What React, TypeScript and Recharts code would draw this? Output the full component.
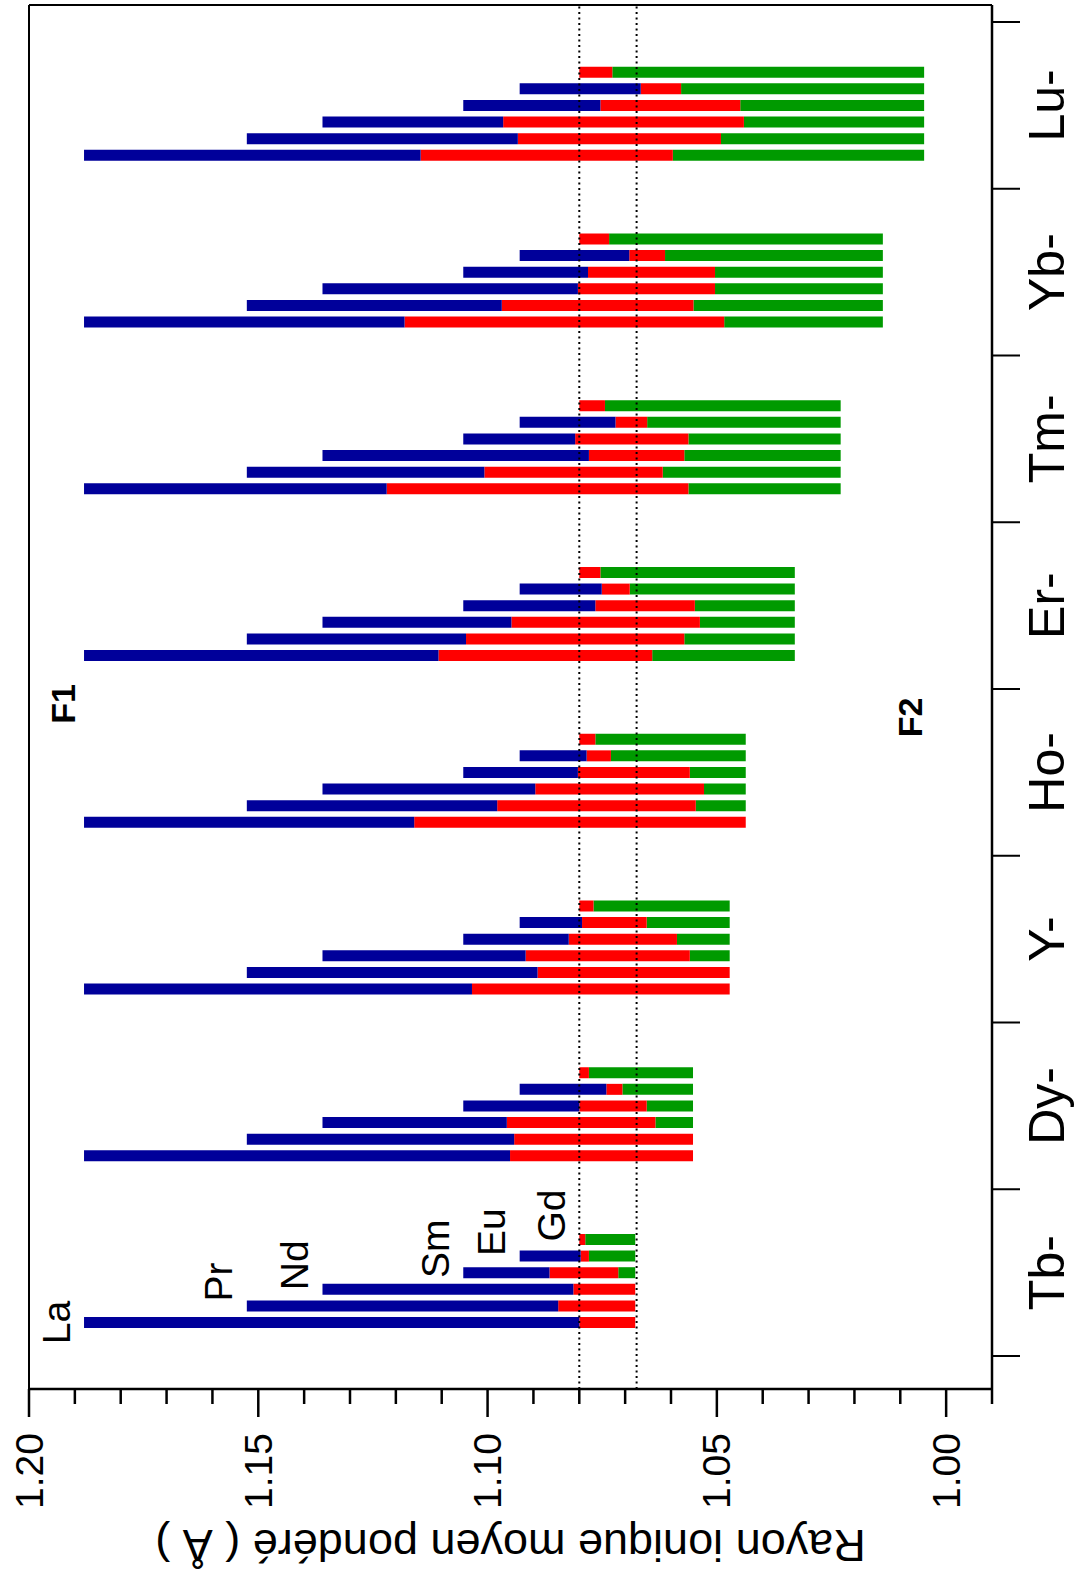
import React from "react";
import { Bar, BarChart, ReferenceDot, ReferenceLine, XAxis, YAxis } from "recharts";

// groups along the category axis (bottom to top in the picture)
const categories = ["Tb-", "Dy-", "Y-", "Ho-", "Er-", "Tm-", "Yb-", "Lu-"];
// bars inside each group
const elements = ["La", "Pr", "Nd", "Sm", "Eu", "Gd"];

// start of each bar (blue end), same in every group
const topValues: Record<string, number> = {
  La: 1.188,
  Pr: 1.1525,
  Nd: 1.136,
  Sm: 1.1053,
  Eu: 1.093,
  Gd: 1.08,
};

// end of the bars (green end), one per group
const bottomValues = [1.0678, 1.0552, 1.0472, 1.0437, 1.033, 1.023, 1.0138, 1.0048];

// blue -> red boundary, per group
const blueEnd: Record<string, number[]> = {
  La: [1.08, 1.0951, 1.1034, 1.116, 1.1107, 1.122, 1.1181, 1.1146],
  Pr: [1.0846, 1.0942, 1.0891, 1.0979, 1.1047, 1.1007, 1.0969, 1.0934],
  Nd: [1.0813, 1.0958, 1.0917, 1.0896, 1.0948, 1.0779, 1.0803, 1.0966],
  Sm: [1.0865, 1.08, 1.0823, 1.0803, 1.0765, 1.0809, 1.0781, 1.0754],
  Eu: [1.0797, 1.0741, 1.0794, 1.0784, 1.0751, 1.0721, 1.0691, 1.0666],
  Gd: [1.08, 1.08, 1.08, 1.08, 1.08, 1.08, 1.08, 1.08],
};

// red -> green boundary, per group
const redEnd: Record<string, number[]> = {
  La: [1.0678, 1.0552, 1.0472, 1.0437, 1.0641, 1.0562, 1.0484, 1.0596],
  Pr: [1.0678, 1.0552, 1.0472, 1.0546, 1.0571, 1.0618, 1.0551, 1.0491],
  Nd: [1.0678, 1.0634, 1.0559, 1.0528, 1.0537, 1.0571, 1.0504, 1.0441],
  Sm: [1.0715, 1.0653, 1.0587, 1.0559, 1.0548, 1.0562, 1.0504, 1.0449],
  Eu: [1.0779, 1.0706, 1.0653, 1.0731, 1.069, 1.0652, 1.0613, 1.0578],
  Gd: [1.0787, 1.0779, 1.0769, 1.0765, 1.0754, 1.0744, 1.0735, 1.0728],
};

const valueTicks = [
  0.99, 1.0, 1.01, 1.02, 1.03, 1.04, 1.05, 1.06, 1.07, 1.08, 1.09, 1.1, 1.11,
  1.12, 1.13, 1.14, 1.15, 1.16, 1.17, 1.18, 1.19, 1.2,
];
// group boundaries (integers) and group centres (halves)
const groupTicks = [0, 0.5, 1, 1.5, 2, 2.5, 3, 3.5, 4, 4.5, 5, 5.5, 6, 6.5, 7, 7.5, 8];
const dottedLines = [1.08, 1.0675];

const BLUE = "#00009a";
const RED = "#ff0000";
const GREEN = "#009a00";
const FONT = "'Liberation Sans', Arial, sans-serif";

const data = categories.map((cat, i) => {
  const row: any = { cat, pos: i + 0.5 };
  elements.forEach((el) => {
    row[`${el}_base`] = bottomValues[i];
    row[`${el}_g`] = redEnd[el][i] - bottomValues[i];
    row[`${el}_r`] = blueEnd[el][i] - redEnd[el][i];
    row[`${el}_b`] = topValues[el] - blueEnd[el][i];
  });
  return row;
});

const ValueTick = (props: any) => {
  const { x, y, payload } = props;
  const v = payload.value;
  const major = Math.round(v * 100) % 5 === 0;
  return (
    <g>
      <line x1={x} x2={x - (major ? 28 : 15)} y1={y} y2={y} stroke="#000" strokeWidth={2.5} />
      {major && (
        <text
          x={x - 44}
          y={y}
          textAnchor="end"
          dominantBaseline="central"
          fontSize={39}
          fontFamily={FONT}
          fill="#000"
        >
          {v.toFixed(2)}
        </text>
      )}
    </g>
  );
};

const GroupTick = (props: any) => {
  const { x, y, payload } = props;
  const v = payload.value;
  if (Number.isInteger(v)) {
    return <line x1={x} x2={x} y1={y} y2={y + 28} stroke="#000" strokeWidth={2} />;
  }
  return (
    <text
      x={x}
      y={y + 55}
      textAnchor="middle"
      dominantBaseline="central"
      fontSize={50}
      fontFamily="'Liberation Sans Narrow', 'Arial Narrow', 'Liberation Sans', sans-serif"
      fill="#000"
    >
      {categories[Math.floor(v)]}
    </text>
  );
};

const elementLabel = (el: string) => (props: any) => {
  const { x, y, width, index } = props;
  if (index !== 0) return null;
  const shift = el === "La" ? 0 : 24;
  return (
    <text
      x={x + width / 2 + shift}
      y={y - 28}
      textAnchor="middle"
      dominantBaseline="central"
      fontSize={39}
      fontFamily={FONT}
      fill="#000"
    >
      {el}
    </text>
  );
};

export default function App() {
  return (
    <div
      style={{
        position: "absolute",
        left: 0,
        top: 0,
        width: 1076,
        height: 1575,
        background: "#fff",
        overflow: "hidden",
        fontFamily: FONT,
      }}
    >
      <div
        style={{
          position: "absolute",
          left: 0,
          top: 0,
          width: 1575,
          height: 1076,
          transformOrigin: "0 0",
          transform: "translate(0px, 1575px) rotate(-90deg)",
        }}
      >
        <BarChart
          width={1575}
          height={1076}
          data={data}
          margin={{ top: 28, right: 4, bottom: 0, left: 0 }}
          barSize={11}
          barGap={5.6}
        >
          <XAxis
            xAxisId="grid"
            dataKey="pos"
            type="number"
            domain={[0, 8]}
            ticks={groupTicks}
            interval={0}
            allowDataOverflow
            padding={{ left: 33, right: 17 }}
            height={84}
            tickSize={0}
            tickMargin={0}
            tickLine={false}
            axisLine={{ stroke: "#000", strokeWidth: 2.5 }}
            tick={<GroupTick />}
          />
          <XAxis dataKey="cat" type="category" padding={{ left: 25, right: 25 }} height={0} hide />
          <XAxis
            xAxisId="top"
            dataKey="pos"
            orientation="top"
            type="number"
            domain={[0, 8]}
            height={1}
            tick={false}
            tickLine={false}
            axisLine={{ stroke: "#000", strokeWidth: 2 }}
          />
          <YAxis
            type="number"
            domain={[0.99, 1.2]}
            allowDataOverflow
            ticks={valueTicks}
            interval={0}
            width={186}
            tickSize={0}
            tickMargin={0}
            tickLine={false}
            axisLine={{ stroke: "#000", strokeWidth: 2.5 }}
            tick={<ValueTick />}
            label={{
              value: "Rayon ionique moyen pondéré ( Å )",
              angle: -90,
              position: "center",
              dx: -64,
              fontSize: 45,
              fill: "#000",
            }}
          />
          <YAxis
            yAxisId="right"
            orientation="right"
            type="number"
            domain={[0, 1]}
            width={1}
            tick={false}
            tickLine={false}
            axisLine={{ stroke: "#000", strokeWidth: 2 }}
          />
          {elements.map((el) => {
            const labelOnRed = blueEnd[el][0] >= topValues[el];
            return [
              <Bar key={`${el}_base`} dataKey={`${el}_base`} stackId={el} fill="transparent" isAnimationActive={false} />,
              <Bar key={`${el}_g`} dataKey={`${el}_g`} stackId={el} fill={GREEN} isAnimationActive={false} />,
              <Bar
                key={`${el}_r`}
                dataKey={`${el}_r`}
                stackId={el}
                fill={RED}
                isAnimationActive={false}
                label={labelOnRed ? elementLabel(el) : undefined}
              />,
              <Bar
                key={`${el}_b`}
                dataKey={`${el}_b`}
                stackId={el}
                fill={BLUE}
                isAnimationActive={false}
                label={labelOnRed ? undefined : elementLabel(el)}
              />,
            ];
          })}
          {dottedLines.map((v) => (
            <ReferenceLine key={v} y={v} stroke="#000" strokeWidth={2} strokeDasharray="2 3.5" />
          ))}
          <ReferenceDot
            xAxisId="grid"
            x={3.91}
            y={1.1926}
            r={0}
            fill="none"
            stroke="none"
            label={{ value: "F1", position: "center", fontSize: 34, fontWeight: "bold", fill: "#000" }}
          />
          <ReferenceDot
            xAxisId="grid"
            x={3.83}
            y={1.008}
            r={0}
            fill="none"
            stroke="none"
            label={{ value: "F2", position: "center", fontSize: 34, fontWeight: "bold", fill: "#000" }}
          />
        </BarChart>
      </div>
    </div>
  );
}
